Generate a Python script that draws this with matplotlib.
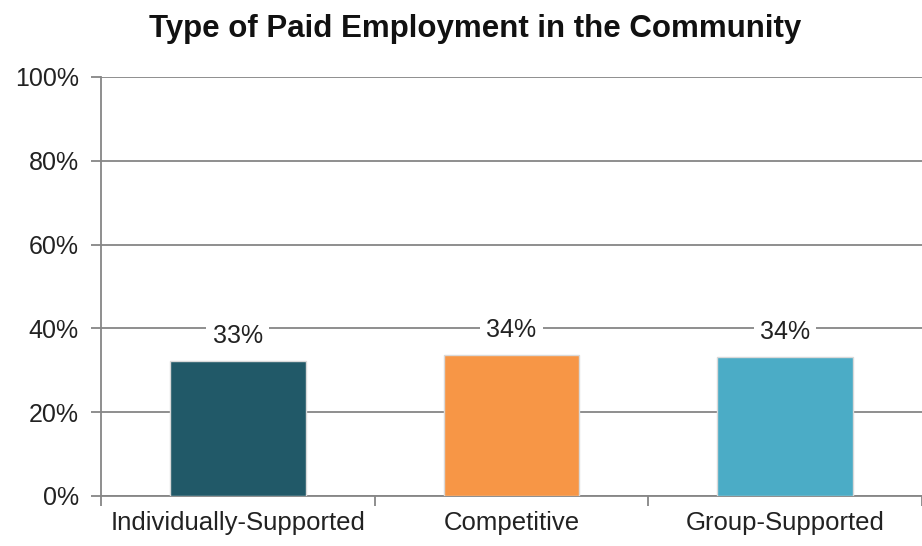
import matplotlib.pyplot as plt

plt.rcParams['font.family'] = ['Liberation Sans', 'DejaVu Sans']

categories = ['Individually-Supported', 'Competitive', 'Group-Supported']
values = [0.322, 0.337, 0.332]
value_labels = ['33%', '34%', '34%']
colors = ['#215968', '#F79646', '#4BACC6']
yticks = [0, 0.2, 0.4, 0.6, 0.8, 1.0]
ytick_labels = ['0%', '20%', '40%', '60%', '80%', '100%']

fig = plt.figure(figsize=(9.22, 5.46), dpi=100)
ax = fig.add_axes([0.1095, 0.0916, 0.8905, 0.7675])

x = range(len(categories))
bars = ax.bar(x, values, width=0.495, color=colors, edgecolor='#d9d9d9',
              linewidth=1, zorder=3)

for b, lab in zip(bars, value_labels):
    ax.annotate(lab, (b.get_x() + b.get_width() / 2, b.get_height()),
                xytext=(0, 13), textcoords='offset points', ha='center',
                va='baseline', fontsize=18, color='#222222', zorder=4,
                bbox=dict(boxstyle='square,pad=0.25', fc='white', ec='none'))

ax.set_xlim(-0.5, 2.5)
ax.set_ylim(0, 1.0)
ax.set_yticks(yticks)
ax.set_yticklabels(ytick_labels)
ax.yaxis.grid(True, color='#868686', linewidth=1.3, zorder=0)
ax.set_axisbelow(True)

# category boundaries as major ticks, labels on minor ticks
ax.set_xticks([-0.5, 0.5, 1.5, 2.5])
ax.set_xticklabels([])
ax.set_xticks(list(x), minor=True)
ax.set_xticklabels(categories, minor=True)
ax.tick_params(axis='x', which='major', length=7, width=1.3, color='#868686')
ax.tick_params(axis='x', which='minor', length=0, pad=11, labelsize=18.5,
               labelcolor='#222222')
ax.tick_params(axis='y', length=7, width=1.3, color='#868686', pad=9,
               labelsize=18, labelcolor='#222222')

for s in ['top', 'right']:
    ax.spines[s].set_visible(False)
for s in ['left', 'bottom']:
    ax.spines[s].set_color('#868686')
    ax.spines[s].set_linewidth(1.3)

fig.text(0.515, 0.947, 'Type of Paid Employment in the Community', ha='center',
         va='center', fontsize=22.5, fontweight='bold', color='#111111')

fig.savefig('out.png', dpi=100)
